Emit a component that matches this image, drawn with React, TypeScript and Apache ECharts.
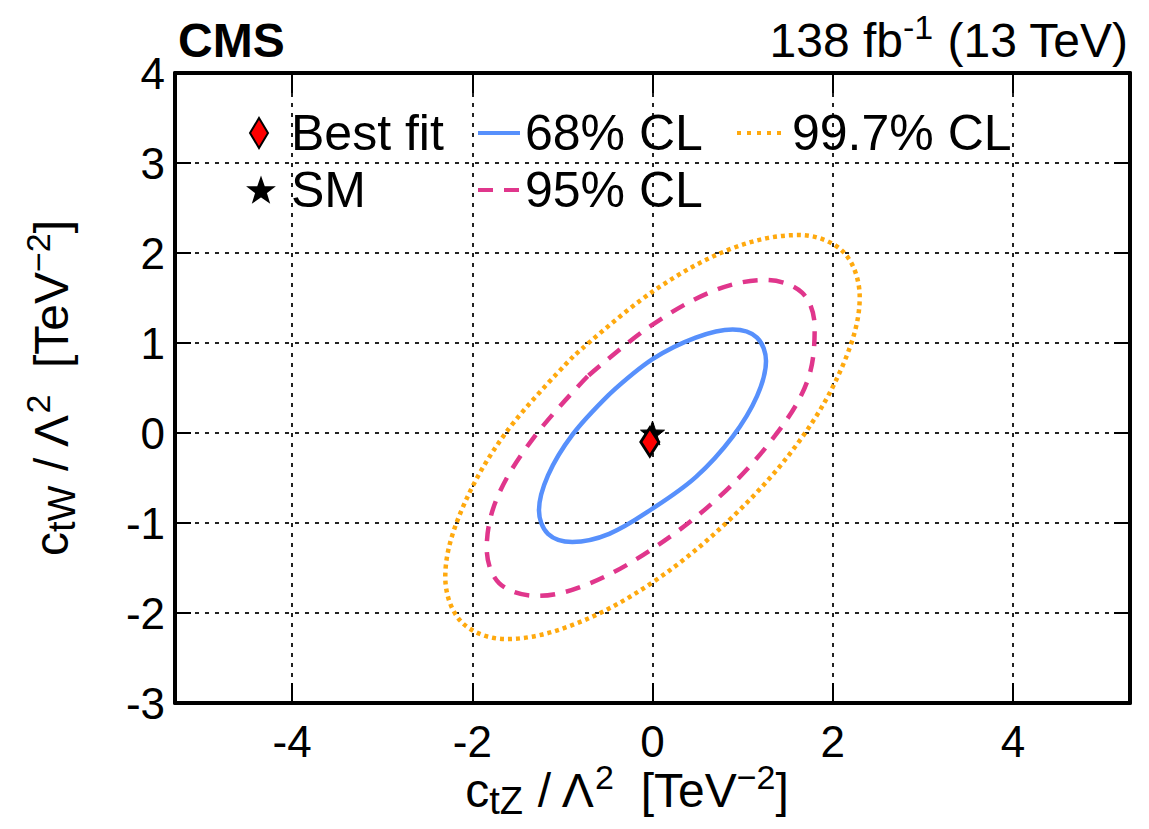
import React, { useEffect, useRef } from "react";
import * as echarts from "echarts";

const FONT = "'Liberation Sans', Arial, Helvetica, sans-serif";

const xTickValues = [-4, -2, 0, 2, 4];

// 68% CL contour (ctZ, ctW), traced starting on a long straight side
const cl68: number[][] = [
  [-0.48, 0.43], [-0.89, -0.02], [-1.16, -0.47], [-1.26, -0.86], [-1.16, -1.12], [-0.89, -1.21],
  [-0.48, -1.12], [0.0, -0.84], [0.48, -0.49], [0.89, -0.04], [1.16, 0.41], [1.26, 0.8],
  [1.16, 1.06], [0.89, 1.15], [0.48, 1.06], [0.0, 0.82], [-0.48, 0.43],
];

// 95% CL contour
const cl95: number[][] = [
  [-0.72, 0.63], [-1.31, -0.04], [-1.72, -0.71], [-1.84, -1.28], [-1.7, -1.67], [-1.28, -1.81],
  [-0.72, -1.68], [-0.02, -1.3], [0.74, -0.71], [1.36, -0.03], [1.72, 0.58], [1.8, 1.18],
  [1.66, 1.56], [1.25, 1.7], [0.68, 1.58], [-0.02, 1.19], [-0.72, 0.63],
];

// 99.7% CL contour
const cl997: number[][] = [
  [-0.88, 0.85], [-1.63, 0.0], [-2.12, -0.86], [-2.3, -1.6], [-2.12, -2.1], [-1.63, -2.29],
  [-0.88, -2.13], [0.0, -1.66], [0.88, -0.94], [1.63, -0.09], [2.12, 0.77], [2.3, 1.51],
  [2.12, 2.01], [1.63, 2.2], [0.88, 2.05], [0.0, 1.57], [-0.88, 0.85],
];

const bestFit: number[][] = [[-0.03, -0.1]];
const smPoint: number[][] = [[0, 0]];

const STAR =
  "path://M50,2 L61.8,35.8 L97.6,36.4 L69,58.2 L79.4,92.4 L50,72 L20.6,92.4 L31,58.2 L2.4,36.4 L38.2,35.8 Z";

const BLUE = "#5790fc";
const MAGENTA = "#e0368c";
const ORANGE = "#ffa90e";

const richStyles = {
  n: { fontSize: 48, lineHeight: 60, fontFamily: FONT, fill: "#000" },
  sub: { fontSize: 38, lineHeight: 30, verticalAlign: "bottom", fontFamily: FONT, fill: "#000" },
  sup: { fontSize: 34, lineHeight: 30, verticalAlign: "top", fontFamily: FONT, fill: "#000" },
};

export default function App() {
  const ref = useRef<HTMLDivElement>(null);

  useEffect(() => {
    if (!ref.current) return;
    const chart = echarts.init(ref.current, undefined, { renderer: "svg" });

    const legendCommon = {
      orient: "horizontal",
      padding: 0,
      selectedMode: false,
      textStyle: { fontSize: 50, color: "#000", fontFamily: FONT, lineHeight: 50 },
    };
    const lineLegend = {
      ...legendCommon,
      itemStyle: { opacity: 0 },
      lineStyle: { width: 4 },
    };

    const axisLineStyle = { color: "#000", width: 4 };
    const tickLineStyle = { color: "#000", width: 2 };

    const option: any = {
      animation: false,
      backgroundColor: "#fff",
      textStyle: { fontFamily: FONT },
      grid: { left: 175, right: 19, top: 73, bottom: 126, containLabel: false },
      xAxis: [
        {
          type: "value",
          min: -5.3,
          max: 5.3,
          position: "bottom",
          axisLine: { show: true, onZero: false, lineStyle: axisLineStyle },
          axisTick: { show: true, inside: true, length: 20, customValues: xTickValues, lineStyle: tickLineStyle },
          axisLabel: { show: true, customValues: xTickValues, fontSize: 44, color: "#000", margin: 16, fontFamily: FONT },
          splitLine: { show: true, lineStyle: { color: "#222", width: 2, type: [4, 6] } },
        },
        {
          type: "value",
          min: -5.3,
          max: 5.3,
          position: "top",
          axisLine: { show: true, onZero: false, lineStyle: axisLineStyle },
          axisTick: { show: true, inside: true, length: 20, customValues: xTickValues, lineStyle: tickLineStyle },
          axisLabel: { show: false },
          splitLine: { show: false },
        },
      ],
      yAxis: [
        {
          type: "value",
          min: -3,
          max: 4,
          interval: 1,
          position: "left",
          axisLine: { show: true, onZero: false, lineStyle: axisLineStyle },
          axisTick: { show: true, inside: true, length: 16, lineStyle: tickLineStyle },
          axisLabel: { show: true, fontSize: 44, color: "#000", margin: 10, fontFamily: FONT },
          splitLine: { show: true, lineStyle: { color: "#222", width: 2, type: [4, 6] } },
        },
        {
          type: "value",
          min: -3,
          max: 4,
          interval: 1,
          position: "right",
          axisLine: { show: true, onZero: false, lineStyle: axisLineStyle },
          axisTick: { show: true, inside: true, length: 16, lineStyle: tickLineStyle },
          axisLabel: { show: false },
          splitLine: { show: false },
        },
      ],
      legend: [
        {
          ...legendCommon,
          data: ["Best fit"],
          left: 249,
          top: 108,
          itemWidth: 18,
          itemHeight: 30,
          textStyle: { ...legendCommon.textStyle, padding: [0, 0, 0, 18] },
        },
        {
          ...legendCommon,
          data: ["SM"],
          left: 248,
          top: 165,
          itemWidth: 24,
          itemHeight: 24,
          textStyle: { ...legendCommon.textStyle, padding: [0, 0, 0, 13] },
        },
        {
          ...lineLegend,
          data: ["68% CL"],
          left: 476,
          top: 108,
          itemWidth: 42,
          itemHeight: 20,
        },
        {
          ...lineLegend,
          data: ["95% CL"],
          left: 476,
          top: 165,
          itemWidth: 42,
          itemHeight: 20,
        },
        {
          ...lineLegend,
          data: ["99.7% CL"],
          left: 735,
          top: 108,
          itemWidth: 50,
          itemHeight: 20,
          lineStyle: { width: 4, type: [4, 6] },
        },
      ],
      series: [
        {
          name: "99.7% CL",
          type: "line",
          data: cl997,
          smooth: 0.35,
          symbol: "none",
          lineStyle: { color: ORANGE, width: 4.5, type: [4, 4], cap: "butt" },
          itemStyle: { color: ORANGE },
          z: 3,
        },
        {
          name: "95% CL",
          type: "line",
          data: cl95,
          smooth: 0.35,
          symbol: "none",
          lineStyle: { color: MAGENTA, width: 4.5, type: [15, 11] },
          itemStyle: { color: MAGENTA },
          z: 3,
        },
        {
          name: "68% CL",
          type: "line",
          data: cl68,
          smooth: 0.35,
          symbol: "none",
          lineStyle: { color: BLUE, width: 4.5, type: "solid" },
          itemStyle: { color: BLUE },
          z: 3,
        },
        {
          name: "SM",
          type: "scatter",
          data: smPoint,
          symbol: STAR,
          symbolSize: 24,
          itemStyle: { color: "#000", borderColor: "#000", borderWidth: 1, opacity: 1 },
          z: 4,
        },
        {
          name: "Best fit",
          type: "scatter",
          data: bestFit,
          symbol: "diamond",
          symbolSize: [18, 28],
          itemStyle: { color: "#ff0000", borderColor: "#000", borderWidth: 3, opacity: 1 },
          z: 5,
        },
      ],
      graphic: [
        {
          type: "text",
          x: 178,
          y: 40,
          style: {
            text: "CMS",
            fontSize: 48,
            fontWeight: "bold",
            fontFamily: FONT,
            fill: "#000",
            align: "left",
            verticalAlign: "middle",
          },
        },
        {
          type: "text",
          x: 1128,
          y: 40,
          style: {
            text: "{n|138 fb}{sup|-1}{n| (13 TeV)}",
            align: "right",
            verticalAlign: "middle",
            rich: richStyles,
          },
        },
        {
          type: "text",
          x: 627,
          y: 790,
          style: {
            text: "{n|c}{sub|tZ}{n| / Λ}{sup|2}{n|  [TeV}{sup|−2}{n|]}",
            align: "center",
            verticalAlign: "middle",
            rich: richStyles,
          },
        },
        {
          type: "text",
          x: 51,
          y: 388,
          rotation: Math.PI / 2,
          style: {
            text: "{n|c}{sub|tW}{n| / Λ}{sup|2}{n|  [TeV}{sup|−2}{n|]}",
            align: "center",
            verticalAlign: "middle",
            rich: richStyles,
          },
        },
      ],
    };

    chart.setOption(option);
    return () => chart.dispose();
  }, []);

  return (
    <div
      ref={ref}
      style={{ position: "absolute", left: 0, top: 0, width: 1149, height: 829, background: "#fff" }}
    />
  );
}
